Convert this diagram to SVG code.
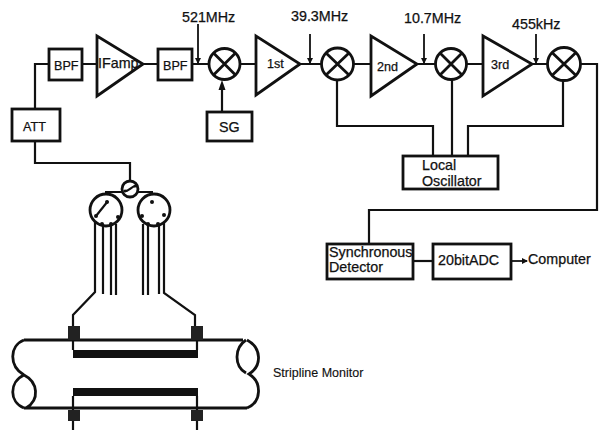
<svg xmlns="http://www.w3.org/2000/svg" width="603" height="430" viewBox="0 0 603 430">
<defs>
<marker id="a" markerUnits="userSpaceOnUse" markerWidth="8" markerHeight="8" refX="5" refY="3" orient="auto"><path d="M0,0L6,3L0,6Z" fill="#111"/></marker>
</defs>
<style>
.b{fill:#fff;stroke:#111;stroke-width:2.8}
.t{fill:#fff;stroke:#111;stroke-width:2.8;stroke-linejoin:miter}
.m{fill:none;stroke:#111;stroke-width:2.8}
.l{fill:none;stroke:#111;stroke-width:2.2}
.a{fill:none;stroke:#111;stroke-width:1.8;marker-end:url(#a)}
text{font-family:"Liberation Sans",Arial,sans-serif;font-size:14.3px;fill:#111;stroke:#111;stroke-width:.25}
.s{font-size:12.5px;stroke-width:.15}
.n{font-size:12.6px}
</style>
<rect width="603" height="430" fill="#fff"/>
<g id="connectors">
<path class="l" d="M35,109V64H49M82,64H97M143,64H158M192,64H209M240,64H256M300,64H321M354,64H371M417,64H435M467,64H483M532,64H547M581,64H597V210H369V244"/>
<path class="l" d="M35,141V163H130V180"/>
<path class="l" d="M337,80V126H433V156M452,80V156M563,80V126H468V156"/>
<path class="l" d="M222,112V84"/>
<path d="M218.500,90L222,80L225.500,90Z" fill="#111"/>
<path class="l" d="M413,261H433"/>
<path class="a" d="M198,24V63"/>
<path class="a" d="M310,34V63"/>
<path class="a" d="M424,34V63"/>
<path class="a" d="M536,34V63"/>
<path class="a" d="M511,261H527"/>
<path class="l" d="M105,192H122M138,192H153"/>
<path class="l" d="M95,222V292L73,315V326M103,224V294M111,224V295M116,224V295M143,224V295M148,224V295M159,224V294M164,222V293L195,315V326"/>
<path class="l" d="M73,339V350M197,339V350M73,396V410M197,396V410M73,421V430M197,421V430"/>
</g>
<g id="bpf1"><rect class="b" x="49" y="49" width="33" height="31"/><text class="n" x="54" y="70">BPF</text></g>
<g id="att"><rect class="b" x="12" y="109" width="48" height="32"/><text class="n" x="23" y="131">ATT</text></g>
<g id="ifamp"><path class="t" d="M97,36V96L143,64Z"/><text x="98" y="68">IFamp</text></g>
<g id="bpf2"><rect class="b" x="158" y="49" width="34" height="31"/><text class="n" x="163" y="70">BPF</text></g>
<g id="mixer1"><circle class="m" cx="224.500" cy="64" r="15.500"/><path class="m" d="M213.500,53L235.500,75M235.500,53L213.500,75"/></g>
<g id="sg"><rect class="b" x="207" y="112" width="45" height="29"/><text x="219" y="132">SG</text></g>
<g id="amp1"><path class="t" d="M256,36V95L300,64Z"/><text class="n" x="267" y="68">1st</text></g>
<g id="mixer2"><circle class="m" cx="337.500" cy="64" r="16"/><path class="m" d="M326,53L349,75M349,53L326,75"/></g>
<g id="amp2"><path class="t" d="M371,36V96L417,64Z"/><text class="n" x="377" y="71">2nd</text></g>
<g id="mixer3"><circle class="m" cx="451" cy="64" r="15.500"/><path class="m" d="M440,53L462,75M462,53L440,75"/></g>
<g id="amp3"><path class="t" d="M483,36V96L532,64Z"/><text class="n" x="491" y="69">3rd</text></g>
<g id="mixer4"><circle class="m" cx="564" cy="64" r="16.500"/><path class="m" d="M552.500,53L575.500,75M575.500,53L552.500,75"/></g>
<g id="local"><rect class="b" x="403" y="156" width="95" height="33"/><text x="422" y="170">Local</text><text x="422" y="186">Oscillator</text></g>
<g id="sync"><rect class="b" x="327" y="244" width="86" height="35"/><text x="329" y="257">Synchronous</text><text x="329" y="272">Detector</text></g>
<g id="adc"><rect class="b" x="433" y="244" width="78" height="35"/><text x="438" y="265">20bitADC</text></g>
<g id="labels">
<text x="182" y="22">521MHz</text><text x="291" y="21">39.3MHz</text><text x="404" y="23">10.7MHz</text><text x="512" y="29">455kHz</text>
<text x="528" y="264">Computer</text>
<text x="273" y="377" class="s">Stripline Monitor</text>
</g>
<g id="switch">
<circle class="m" cx="130" cy="189" r="8"/><path class="l" d="M125,191C129,191 131,187 135,186"/>
<circle cx="125" cy="191" r="1.500" fill="#111"/><circle cx="135" cy="186" r="1.500" fill="#111"/>
</g>
<g id="rotaryL">
<circle class="m" cx="106" cy="210" r="16"/><path class="l" d="M96,216L108,201"/>
<circle cx="107" cy="202" r="2" fill="#111"/><circle cx="96" cy="216" r="2" fill="#111"/><circle cx="102" cy="224" r="2" fill="#111"/><circle cx="111" cy="224" r="2" fill="#111"/><circle cx="118" cy="217" r="2" fill="#111"/>
</g>
<g id="rotaryR">
<circle class="m" cx="154" cy="210" r="16"/>
<circle cx="152" cy="202" r="2" fill="#111"/><circle cx="142" cy="216" r="2" fill="#111"/><circle cx="148" cy="224" r="2" fill="#111"/><circle cx="158" cy="224" r="2" fill="#111"/><circle cx="164" cy="215" r="2" fill="#111"/>
</g>
<g id="stripline">
<path class="m" d="M24,340H243M24,340C9,346 9,366 24,375C38,382 40,400 26,408M24,375C9,382 9,402 24,408M24,408H247"/>
<path class="m" d="M246,340C234,348 234,366 246,373M247,340C262,348 262,366 249,374C262,382 262,402 247,408"/>
<rect x="73" y="350" width="125" height="8" fill="#111"/>
<rect x="73" y="388" width="125" height="8" fill="#111"/>
<rect x="68" y="326" width="12" height="14" fill="#222"/><rect x="191" y="326" width="12" height="14" fill="#222"/>
<rect x="68" y="410" width="12" height="11" fill="#222"/><rect x="191" y="410" width="12" height="11" fill="#222"/>
</g>
</svg>
